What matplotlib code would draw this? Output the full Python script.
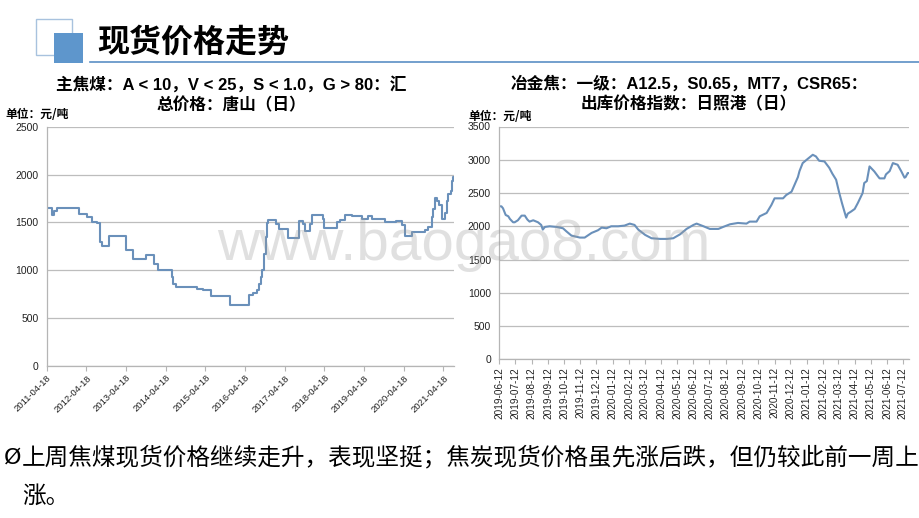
import matplotlib
matplotlib.use("Agg")
import matplotlib.pyplot as plt
import matplotlib.dates as mdates
import pandas as pd
from matplotlib.patches import Rectangle
from matplotlib.lines import Line2D

plt.rcParams['font.family'] = ['Noto Sans CJK SC', 'DejaVu Sans']

# ---------------- data ----------------
coal_dates = ["2011-04-18", "2011-06-03", "2011-06-20", "2011-07-19", "2012-02-10", "2012-04-26",
              "2012-06-11", "2012-07-21", "2012-08-21", "2012-09-06", "2012-11-15", "2013-04-18",
              "2013-06-18", "2013-10-16", "2014-01-01", "2014-02-10", "2014-06-13", "2014-06-28",
              "2014-07-19", "2015-01-28", "2015-03-31", "2015-06-05", "2015-11-30", "2016-05-27",
              "2016-07-03", "2016-08-09", "2016-08-27", "2016-09-09", "2016-09-24", "2016-10-09",
              "2016-10-24", "2016-11-02", "2016-11-18", "2017-01-27", "2017-02-27", "2017-05-22",
              "2017-08-27", "2017-10-06", "2017-10-21", "2017-12-06", "2017-12-27", "2018-04-09",
              "2018-04-18", "2018-08-09", "2018-09-09", "2018-10-24", "2019-01-02", "2019-03-27",
              "2019-05-27", "2019-06-27", "2019-10-28", "2020-02-03", "2020-03-30", "2020-04-30",
              "2020-07-03", "2020-10-30", "2020-11-30", "2020-12-30", "2021-01-14", "2021-01-30",
              "2021-02-20", "2021-03-10", "2021-04-02", "2021-05-02", "2021-05-17", "2021-06-02",
              "2021-06-23", "2021-07-02", "2021-07-18", "2021-07-23"]
coal_values = [1650, 1580, 1620, 1650, 1590, 1560,
               1510, 1490, 1300, 1250, 1360, 1210,
               1120, 1160, 1060, 1000, 925, 860,
               820, 800, 790, 730, 640, 740,
               760, 790, 860, 930, 1000, 1170,
               1350, 1490, 1530, 1480, 1430, 1340,
               1520, 1480, 1410, 1480, 1580, 1540,
               1440, 1500, 1525, 1580, 1570, 1540,
               1570, 1540, 1500, 1520, 1470, 1360,
               1400, 1420, 1450, 1560, 1640, 1760,
               1720, 1680, 1540, 1600, 1730, 1800,
               1830, 1930, 1980, 1980]

coke_dates = ["2019-06-12", "2019-06-16", "2019-06-19", "2019-06-24", "2019-06-29", "2019-07-02",
              "2019-07-08", "2019-07-11", "2019-07-17", "2019-07-24", "2019-07-30", "2019-08-04",
              "2019-08-08", "2019-08-15", "2019-08-24", "2019-08-30", "2019-09-02", "2019-09-06",
              "2019-09-15", "2019-09-28", "2019-10-10", "2019-10-17", "2019-10-26", "2019-11-11",
              "2019-11-20", "2019-12-03", "2019-12-15", "2019-12-22", "2019-12-31", "2020-01-09",
              "2020-01-22", "2020-02-03", "2020-02-13", "2020-02-22", "2020-02-29", "2020-03-13",
              "2020-03-25", "2020-04-10", "2020-04-23", "2020-05-05", "2020-05-18", "2020-05-30",
              "2020-06-12", "2020-06-18", "2020-07-01", "2020-07-13", "2020-07-29", "2020-08-07",
              "2020-08-20", "2020-09-04", "2020-09-20", "2020-09-26", "2020-10-09", "2020-10-15",
              "2020-10-28", "2020-11-06", "2020-11-12", "2020-11-28", "2020-12-04", "2020-12-14",
              "2020-12-20", "2020-12-26", "2020-12-29", "2021-01-04", "2021-01-13", "2021-01-23",
              "2021-01-29", "2021-02-04", "2021-02-14", "2021-02-23", "2021-03-01", "2021-03-08",
              "2021-03-14", "2021-03-19", "2021-03-27", "2021-03-30", "2021-04-05", "2021-04-12",
              "2021-04-18", "2021-04-27", "2021-04-30", "2021-05-05", "2021-05-10", "2021-05-19",
              "2021-05-26", "2021-05-29", "2021-06-07", "2021-06-10", "2021-06-17", "2021-06-23",
              "2021-07-02", "2021-07-09", "2021-07-15", "2021-07-17", "2021-07-21", "2021-07-23"]
coke_values = [2300, 2300, 2270, 2170, 2150, 2110,
               2060, 2060, 2090, 2160, 2160, 2100,
               2070, 2090, 2060, 2020, 1950, 1990,
               2000, 1990, 1970, 1920, 1860, 1830,
               1830, 1900, 1940, 1980, 1970, 2000,
               2000, 2010, 2040, 2020, 1950, 1870,
               1820, 1810, 1810, 1820, 1880, 1960,
               2020, 2040, 2000, 1960, 1960, 1990,
               2030, 2050, 2040, 2070, 2070, 2150,
               2200, 2320, 2420, 2420, 2470, 2520,
               2630, 2740, 2830, 2950, 3010, 3075,
               3050, 2985, 2975, 2880, 2790, 2700,
               2500, 2350, 2130, 2190, 2220, 2260,
               2350, 2500, 2650, 2680, 2900, 2825,
               2750, 2720, 2720, 2780, 2830, 2950,
               2925, 2825, 2730, 2740, 2800, 2800]

coal_ticks = ["2011-04-18", "2012-04-18", "2013-04-18", "2014-04-18", "2015-04-18", "2016-04-18",
              "2017-04-18", "2018-04-18", "2019-04-18", "2020-04-18", "2021-04-18"]
coke_ticks = ["2019-06-12", "2019-07-12", "2019-08-12", "2019-09-12", "2019-10-12", "2019-11-12",
              "2019-12-12", "2020-01-12", "2020-02-12", "2020-03-12", "2020-04-12", "2020-05-12",
              "2020-06-12", "2020-07-12", "2020-08-12", "2020-09-12", "2020-10-12", "2020-11-12",
              "2020-12-12", "2021-01-12", "2021-02-12", "2021-03-12", "2021-04-12", "2021-05-12",
              "2021-06-12", "2021-07-12"]

header_title = "现货价格走势"
coal_title = ["主焦煤：A < 10，V < 25，S < 1.0，G > 80：汇", "总价格：唐山（日）"]
coke_title = ["冶金焦：一级：A12.5，S0.65，MT7，CSR65：", "出库价格指数：日照港（日）"]
unit_label = "单位：元/吨"
note_line1 = "上周焦煤现货价格继续走升，表现坚挺；焦炭现货价格虽先涨后跌，但仍较此前一周上"
note_line2 = "涨。"

# ---------------- figure ----------------
W, H = 920, 518
fig = plt.figure(figsize=(W / 100, H / 100), dpi=100)

def fx(px):
    return px / W

def fy(py):
    return 1 - py / H

LINE_C = '#6a90ba'
GRID_C = '#bdbdbd'
SPINE_C = '#b5b5b5'
TICK_FONT = ['Liberation Sans', 'DejaVu Sans']
TITLE_FONT = ['Liberation Sans', 'Noto Sans CJK SC', 'DejaVu Sans']

# header decoration
fig.patches.append(Rectangle((fx(36), fy(55)), fx(36), 36 / H, transform=fig.transFigure,
                             facecolor='white', edgecolor='#a8c2de', lw=1.0))
fig.patches.append(Rectangle((fx(54), fy(63)), fx(29), 30 / H, transform=fig.transFigure,
                             facecolor='#5e96cc', edgecolor='none'))
fig.lines.append(Line2D([fx(90), fx(920)], [fy(61.5), fy(61.5)], transform=fig.transFigure,
                        color='#5b8fc5', lw=1.2))
fig.text(fx(97), fy(43), header_title, fontsize=23, fontweight='bold', ha='left', va='center',
         color='black')


def style_axes(ax, ymax, tick_dates, rot, fs):
    ax.set_ylim(0, ymax)
    ax.set_yticks(range(0, ymax + 1, 500))
    ax.grid(axis='y', color=GRID_C, lw=0.9)
    ax.set_axisbelow(True)
    for s in ['top', 'right']:
        ax.spines[s].set_visible(False)
    for s in ['left', 'bottom']:
        ax.spines[s].set_color(SPINE_C)
        ax.spines[s].set_linewidth(0.9)
    ax.tick_params(axis='y', length=0, pad=6, labelsize=7.5, labelcolor='#222222')
    ax.tick_params(axis='x', length=3.5, color=SPINE_C, labelsize=fs, labelcolor='#222222', pad=2)
    for lab in ax.get_yticklabels():
        lab.set_family(TICK_FONT)
    ticks = pd.to_datetime(tick_dates)
    ax.set_xticks(mdates.date2num(ticks))
    ax.set_xticklabels(tick_dates, family=TICK_FONT)
    if rot == 45:
        for lab in ax.get_xticklabels():
            lab.set_rotation(45)
            lab.set_ha('right')
            lab.set_va('top')
            lab.set_rotation_mode('anchor')
    else:
        for lab in ax.get_xticklabels():
            lab.set_rotation(90)
            lab.set_ha('right')
            lab.set_va('center')
            lab.set_rotation_mode('anchor')


def two_line_title(xc, y1, y2, lines):
    fig.text(fx(xc), fy(y1), lines[0], ha='center', va='center', fontsize=12,
             fontweight='bold', family=TITLE_FONT)
    fig.text(fx(xc), fy(y2), lines[1], ha='center', va='center', fontsize=12,
             fontweight='bold', family=TITLE_FONT)


# left chart
ax1 = fig.add_axes([fx(46.7), fy(365.7), fx(454 - 46.7), (365.7 - 127) / H])
cd = pd.to_datetime(coal_dates)
ax1.plot(cd, coal_values, color=LINE_C, lw=1.5, drawstyle='steps-post')
ax1.set_xlim(pd.Timestamp("2011-04-18"), pd.Timestamp("2021-07-25"))
style_axes(ax1, 2500, coal_ticks, 45, 6.8)

two_line_title(231, 84, 105, coal_title)
fig.text(fx(5), fy(114), unit_label, ha='left', va='center', fontsize=8.5, fontweight='bold')

# right chart
ax2 = fig.add_axes([fx(499.3), fy(359.3), fx(909.3 - 499.3), (359.3 - 126.5) / H])
kd = pd.to_datetime(coke_dates)
ax2.plot(kd, coke_values, color=LINE_C, lw=1.5)
ax2.set_xlim(pd.Timestamp("2019-06-12"), pd.Timestamp("2021-07-24"))
style_axes(ax2, 3500, coke_ticks, 90, 7.2)

two_line_title(689, 83, 104, coke_title)
fig.text(fx(468), fy(116), unit_label, ha='left', va='center', fontsize=8.5, fontweight='bold')

# watermark
fig.text(fx(217), fy(260), "www.baogao8.com", ha='left', va='baseline', fontsize=42,
         family=['Liberation Sans', 'DejaVu Sans'], color='#9a9a9a', alpha=0.3, zorder=10)

# bottom note
fig.text(fx(4), fy(458), "Ø", ha='left', va='center', fontsize=16, color='black',
         family=['DejaVu Sans'])
fig.text(fx(22), fy(458), note_line1, ha='left', va='center', fontsize=17, color='black')
fig.text(fx(22), fy(496), note_line2, ha='left', va='center', fontsize=17, color='black')

fig.savefig("out.png", dpi=100, facecolor='white')
